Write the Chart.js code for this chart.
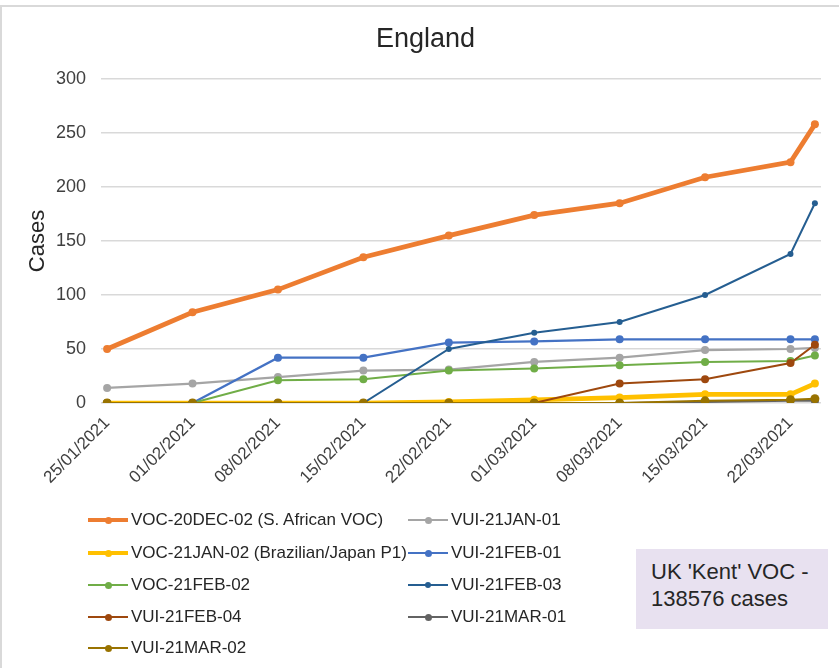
<!DOCTYPE html>
<html><head><meta charset="utf-8">
<script src="https://cdn.jsdelivr.net/npm/chart.js@4.4.1/dist/chart.umd.min.js"></script>
<style>
html,body{margin:0;padding:0;background:#fff;}
body{width:839px;height:668px;position:relative;overflow:hidden;font-family:"Liberation Sans",Arial,sans-serif;}
#frame{position:absolute;left:0;top:5px;width:900px;height:700px;border-left:2px solid #D9D9D9;border-top:2px solid #D9D9D9;box-sizing:border-box;}
#c{position:absolute;left:0;top:0;}
.item{position:absolute;height:24px;display:flex;align-items:center;font-size:17px;color:#262626;white-space:nowrap;}
.sym{position:relative;width:40px;height:24px;margin-right:3px;}
.sym .ln{position:absolute;left:0;width:40px;top:50%;}
.sym .dot{position:absolute;left:50%;top:50%;border-radius:50%;}
#note{position:absolute;left:636px;top:549px;width:192px;height:80px;background:#E8E1F0;box-sizing:border-box;padding:9px 0 0 15px;font-size:22px;line-height:27px;color:#262626;}
</style>
</head><body>
<div id="frame"></div>
<canvas id="c" width="839" height="668"></canvas>
<div id="legend"></div>
<div id="note">UK 'Kent' VOC -<br>138576 cases</div>
<script>
const FONT = '"Liberation Sans", Arial, sans-serif';
const dates = ['2021-01-25','2021-02-01','2021-02-08','2021-02-15','2021-02-22','2021-03-01','2021-03-08','2021-03-15','2021-03-22','2021-03-24'];
const tickDates = ['2021-01-25','2021-02-01','2021-02-08','2021-02-15','2021-02-22','2021-03-01','2021-03-08','2021-03-15','2021-03-22'];
const tickLabels = ['25/01/2021','01/02/2021','08/02/2021','15/02/2021','22/02/2021','01/03/2021','08/03/2021','15/03/2021','22/03/2021'];
const yTicks = [0,50,100,150,200,250,300];

const seriesNames = ['VOC-20DEC-02 (S. African VOC)','VUI-21JAN-01','VOC-21JAN-02 (Brazilian/Japan P1)','VUI-21FEB-01','VOC-21FEB-02','VUI-21FEB-03','VUI-21FEB-04','VUI-21MAR-01','VUI-21MAR-02'];
const voc20dec02 = [50, 84, 105, 135, 155, 174, 185, 209, 223, 258];
const vui21jan01 = [14, 18, 24, 30, 31, 38, 42, 49, 50, 51];
const voc21jan02 = [0, 0, 0, 0, 1, 3, 5, 8, 8, 18];
const vui21feb01 = [0, 0, 42, 42, 56, 57, 59, 59, 59, 59];
const voc21feb02 = [0, 0, 21, 22, 30, 32, 35, 38, 39, 44];
const vui21feb03 = [0, 0, 0, 0, 50, 65, 75, 100, 138, 185];
const vui21feb04 = [0, 0, 0, 0, 0, 0, 18, 22, 37, 54];
const vui21mar01 = [0, 0, 0, 0, 0, 0, 0, 1, 2, 2];
const vui21mar02 = [0, 0, 0, 0, 0, 0, 0, 2, 3, 4];
const seriesValues = [voc20dec02, vui21jan01, voc21jan02, vui21feb01, voc21feb02, vui21feb03, vui21feb04, vui21mar01, vui21mar02];

const colors = ['#ED7D31','#A5A5A5','#FFC000','#4472C4','#70AD47','#255E91','#9E480E','#636363','#997300'];
const widths = [4.75, 2.25, 4.75, 2.25, 2, 2, 2, 2, 2];
const radii = [4, 4, 4, 4, 4, 3, 4, 4, 4.5];

const DAY = 86400000;
const t0 = Date.parse(dates[0]);
const dayOf = d => Math.round((Date.parse(d) - t0) / DAY);
const xs = dates.map(dayOf);
const tickDays = tickDates.map(dayOf);

const n = seriesNames.length;
const datasets = seriesNames.map((name, i) => ({
  label: name,
  data: seriesValues[i].map((v, j) => ({x: xs[j], y: v})),
  borderColor: colors[i],
  backgroundColor: colors[i],
  borderWidth: widths[i],
  pointRadius: radii[i],
  pointBorderWidth: 0,
  pointHoverRadius: radii[i],
  tension: 0,
  order: n - 1 - i
}));

new Chart(document.getElementById('c'), {
  type: 'line',
  data: {datasets},
  options: {
    responsive: false,
    animation: false,
    events: [],
    layout: {padding: {left: 30, right: 18, top: 0, bottom: 168}},
    plugins: {
      legend: {display: false},
      tooltip: {enabled: false},
      title: {display: true, text: 'England', color: '#262626', font: {size: 27, family: FONT, weight: 'normal'}, padding: {top: 23, bottom: 23.6}}
    },
    scales: {
      x: {
        type: 'linear', min: -0.5, max: 58.5,
        afterBuildTicks: s => { s.ticks = tickDays.map(v => ({value: v})); },
        afterFit: s => { s.height = 97; },
        ticks: {
          autoSkip: false, minRotation: 45, maxRotation: 45, padding: 10,
          color: '#404040', font: {size: 17, family: FONT},
          callback: v => { const k = tickDays.indexOf(v); return k >= 0 ? tickLabels[k] : ''; }
        },
        grid: {display: false, drawTicks: false},
        border: {display: false}
      },
      y: {
        min: 0, max: 300,
        afterBuildTicks: s => { s.ticks = yTicks.map(v => ({value: v})); },
        afterFit: s => { s.width = 71; },
        ticks: {padding: 15, color: '#404040', font: {size: 18, family: FONT}},
        grid: {color: '#D9D9D9', lineWidth: 1.5, drawTicks: false},
        border: {display: false},
        title: {display: true, text: 'Cases', color: '#262626', font: {size: 22, family: FONT}, padding: {top: -5, bottom: 0}}
      }
    }
  }
});

// HTML legend built from the same series definitions, two columns like the original
const legend = document.getElementById('legend');
const colX = [88, 408];
const rowY = [520, 553, 585, 617, 648];
seriesNames.forEach((name, i) => {
  const el = document.createElement('div');
  el.className = 'item';
  el.style.left = colX[i % 2] + 'px';
  el.style.top = (rowY[Math.floor(i / 2)] - 12) + 'px';
  const sym = document.createElement('div');
  sym.className = 'sym';
  const ln = document.createElement('div');
  ln.className = 'ln';
  ln.style.height = widths[i] + 'px';
  ln.style.marginTop = (-widths[i] / 2) + 'px';
  ln.style.background = colors[i];
  const dot = document.createElement('div');
  dot.className = 'dot';
  const r = Math.min(radii[i], 3.5);
  dot.style.width = dot.style.height = (2 * r) + 'px';
  dot.style.marginLeft = dot.style.marginTop = (-r) + 'px';
  dot.style.background = colors[i];
  sym.appendChild(ln); sym.appendChild(dot);
  el.appendChild(sym);
  el.appendChild(document.createTextNode(name));
  legend.appendChild(el);
});
</script>
</body></html>
